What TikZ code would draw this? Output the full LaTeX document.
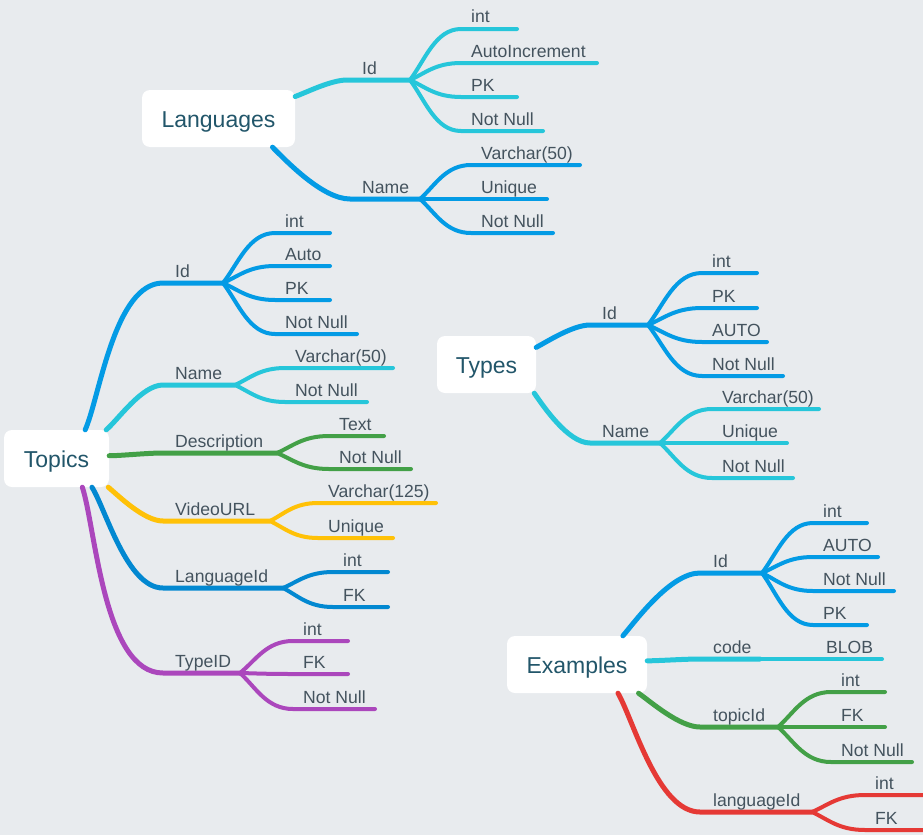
\documentclass[tikz,border=0pt]{standalone}
\usepackage{fontspec}
\setmainfont{Liberation Sans}
\usetikzlibrary{calc}
\definecolor{bg}{HTML}{E8EBEE}
\definecolor{roottxt}{HTML}{22566A}
\definecolor{lbltxt}{HTML}{44535E}
\definecolor{cyanb}{HTML}{26C6DA}
\definecolor{blueb}{HTML}{039BE5}
\definecolor{dblueb}{HTML}{0288D1}
\definecolor{greenb}{HTML}{43A047}
\definecolor{amberb}{HTML}{FFC107}
\definecolor{purpleb}{HTML}{AB47BC}
\definecolor{redb}{HTML}{E53935}
\tikzset{
	main/.style={line width=5pt, line cap=round, out looseness=0.55, in looseness=0.75},
	sub/.style={line width=4pt, line cap=round},
	root/.style={fill=white, rounded corners=8pt, minimum height=57pt, inner sep=0pt, text height=19pt, text depth=2pt, font=\fontsize{23}{27}\selectfont, text=roottxt},
	lbl/.style={anchor=base west, inner sep=0pt, font=\fontsize{17.6}{20}\selectfont, text=lbltxt}
}
% colour, branch point, y, label x, end x, text
\newcommand{\leaf}[6]{%
	\draw[sub,#1] let \p1=(#2) in (#2) .. controls +({0.3*(#4*1pt-10pt-(\x1))},{0.4*(-#3*1pt-(\y1))}) and +({-0.5*(#4*1pt-10pt-(\x1))},0pt) .. (#4-10,#3) -- (#5,#3);
	\node[lbl] (#2-#3) at (#4,#3-6) {#6};}
\begin{document}
\begin{tikzpicture}[x=1pt,y=-1pt]
		\clip (0,0) rectangle (923,835);
		\fill[bg] (0,0) rectangle (923,835);
		% Languages
		\node[root,minimum width=153pt] (lang) at (218.5,118.5) {Languages};
		\draw[main,cyanb] (lang.16) to[out=20,in=180] (347,80) -- (410,80) coordinate (lang-id);
		\node[lbl] (lang-id-t) at (362,74) {Id};
		\foreach \t/\v/\e in {int/29/517, AutoIncrement/63/597, PK/97/517, Not Null/131/543}
			\leaf{cyanb}{lang-id}{\v}{471}{\e}{\t};
		\draw[main,blueb] (lang.-28) to[out=-45,in=180] (350,199) -- (420,199) coordinate (lang-name);
		\node[lbl] (lang-name-t) at (362,193) {Name};
		\foreach \t/\v/\e in {Varchar(50)/165/580, Unique/199/547, Not Null/233/553}
			\leaf{blueb}{lang-name}{\v}{481}{\e}{\t};
		% Topics
		\node[root,minimum width=105pt] (top) at (56.5,458.5) {Topics};
		\draw[main,blueb] (top.45) to[out=66,in=180] (163,283) -- (223,283) coordinate (top-id);
		\node[lbl] (top-id-t) at (175,277) {Id};
		\foreach \t/\v/\e in {int/233/330, Auto/266/330, PK/300/330, Not Null/334/357}
			\leaf{blueb}{top-id}{\v}{285}{\e}{\t};
		\draw[main,cyanb] (top.30) to[out=40,in=180] (163,385) -- (235,385) coordinate (top-name);
		\node[lbl] (top-name-t) at (175,379) {Name};
		\foreach \t/\v/\e in {Varchar(50)/368/393, Not Null/402/367}
			\leaf{cyanb}{top-name}{\v}{295}{\e}{\t};
		\draw[main,greenb] (top.3) to[out=0,in=180] (163,453) -- (277,453) coordinate (top-desc);
		\node[lbl] (top-desc-t) at (175,447) {Description};
		\foreach \t/\v/\e in {Text/436/384, Not Null/469/411}
			\leaf{greenb}{top-desc}{\v}{339}{\e}{\t};
		\draw[main,amberb] (top.-29) to[out=-40,in=180] (163,521) -- (270,521) coordinate (top-url);
		\node[lbl] (top-url-t) at (175,515) {VideoURL};
		\foreach \t/\v/\e in {Varchar(125)/503/436, Unique/538/393}
			\leaf{amberb}{top-url}{\v}{328}{\e}{\t};
		\draw[main,dblueb] (top.-39) to[out=-58,in=180] (163,588) -- (283,588) coordinate (top-lang);
		\node[lbl] (top-lang-t) at (175,582) {LanguageId};
		\foreach \t/\v/\e in {int/572/388, FK/607/388}
			\leaf{dblueb}{top-lang}{\v}{343}{\e}{\t};
		\draw[main,purpleb] (top.-48) to[out=-72,in=180] (163,673) -- (240,673) coordinate (top-type);
		\node[lbl] (top-type-t) at (175,667) {TypeID};
		\foreach \t/\v/\e in {int/641/348, FK/674/348, Not Null/709/375}
			\leaf{purpleb}{top-type}{\v}{303}{\e}{\t};
		% Types
		\node[root,minimum width=99pt] (typ) at (486.5,364.5) {Types};
		\draw[main,blueb] (typ.19) to[out=28,in=180] (590,325) -- (648,325) coordinate (typ-id);
		\node[lbl] (typ-id-t) at (602,319) {Id};
		\foreach \t/\v/\e in {int/273/757, PK/308/757, AUTO/342/767, Not Null/376/783}
			\leaf{blueb}{typ-id}{\v}{712}{\e}{\t};
		\draw[main,cyanb] (typ.-31) to[out=-55,in=180] (590,443) -- (660,443) coordinate (typ-name);
		\node[lbl] (typ-name-t) at (602,437) {Name};
		\foreach \t/\v/\e in {Varchar(50)/409/819, Unique/443/787, Not Null/478/793}
			\leaf{cyanb}{typ-name}{\v}{722}{\e}{\t};
		% Examples
		\node[root,minimum width=140pt] (ex) at (577,664.5) {Examples};
		\draw[main,blueb] (ex.32) to[out=50,in=180] (700,573) -- (762,573) coordinate (ex-id);
		\node[lbl] (ex-id-t) at (713,567) {Id};
		\foreach \t/\v/\e in {int/523/867, AUTO/557/878, Not Null/591/894, PK/625/867}
			\leaf{blueb}{ex-id}{\v}{823}{\e}{\t};
		\draw[main,cyanb] (ex.3) to[out=0,in=180] (700,659) -- (760,659) coordinate (ex-code);
		\node[lbl] (ex-code-t) at (713,653) {code};
		\leaf{cyanb}{ex-code}{659}{826}{882}{BLOB};
		\draw[main,greenb] (ex.-25) to[out=-35,in=180] (700,727) -- (778,727) coordinate (ex-top);
		\node[lbl] (ex-top-t) at (713,721) {topicId};
		\foreach \t/\v/\e in {int/692/885, FK/727/885, Not Null/762/912}
			\leaf{greenb}{ex-top}{\v}{841}{\e}{\t};
		\draw[main,redb] (ex.-35) to[out=-60,in=180] (700,812) -- (812,812) coordinate (ex-lang);
		\node[lbl] (ex-lang-t) at (713,806) {languageId};
		\foreach \t/\v/\e in {int/795/935, FK/830/935}
			\leaf{redb}{ex-lang}{\v}{875}{\e}{\t};
	\end{tikzpicture}
\end{document}
